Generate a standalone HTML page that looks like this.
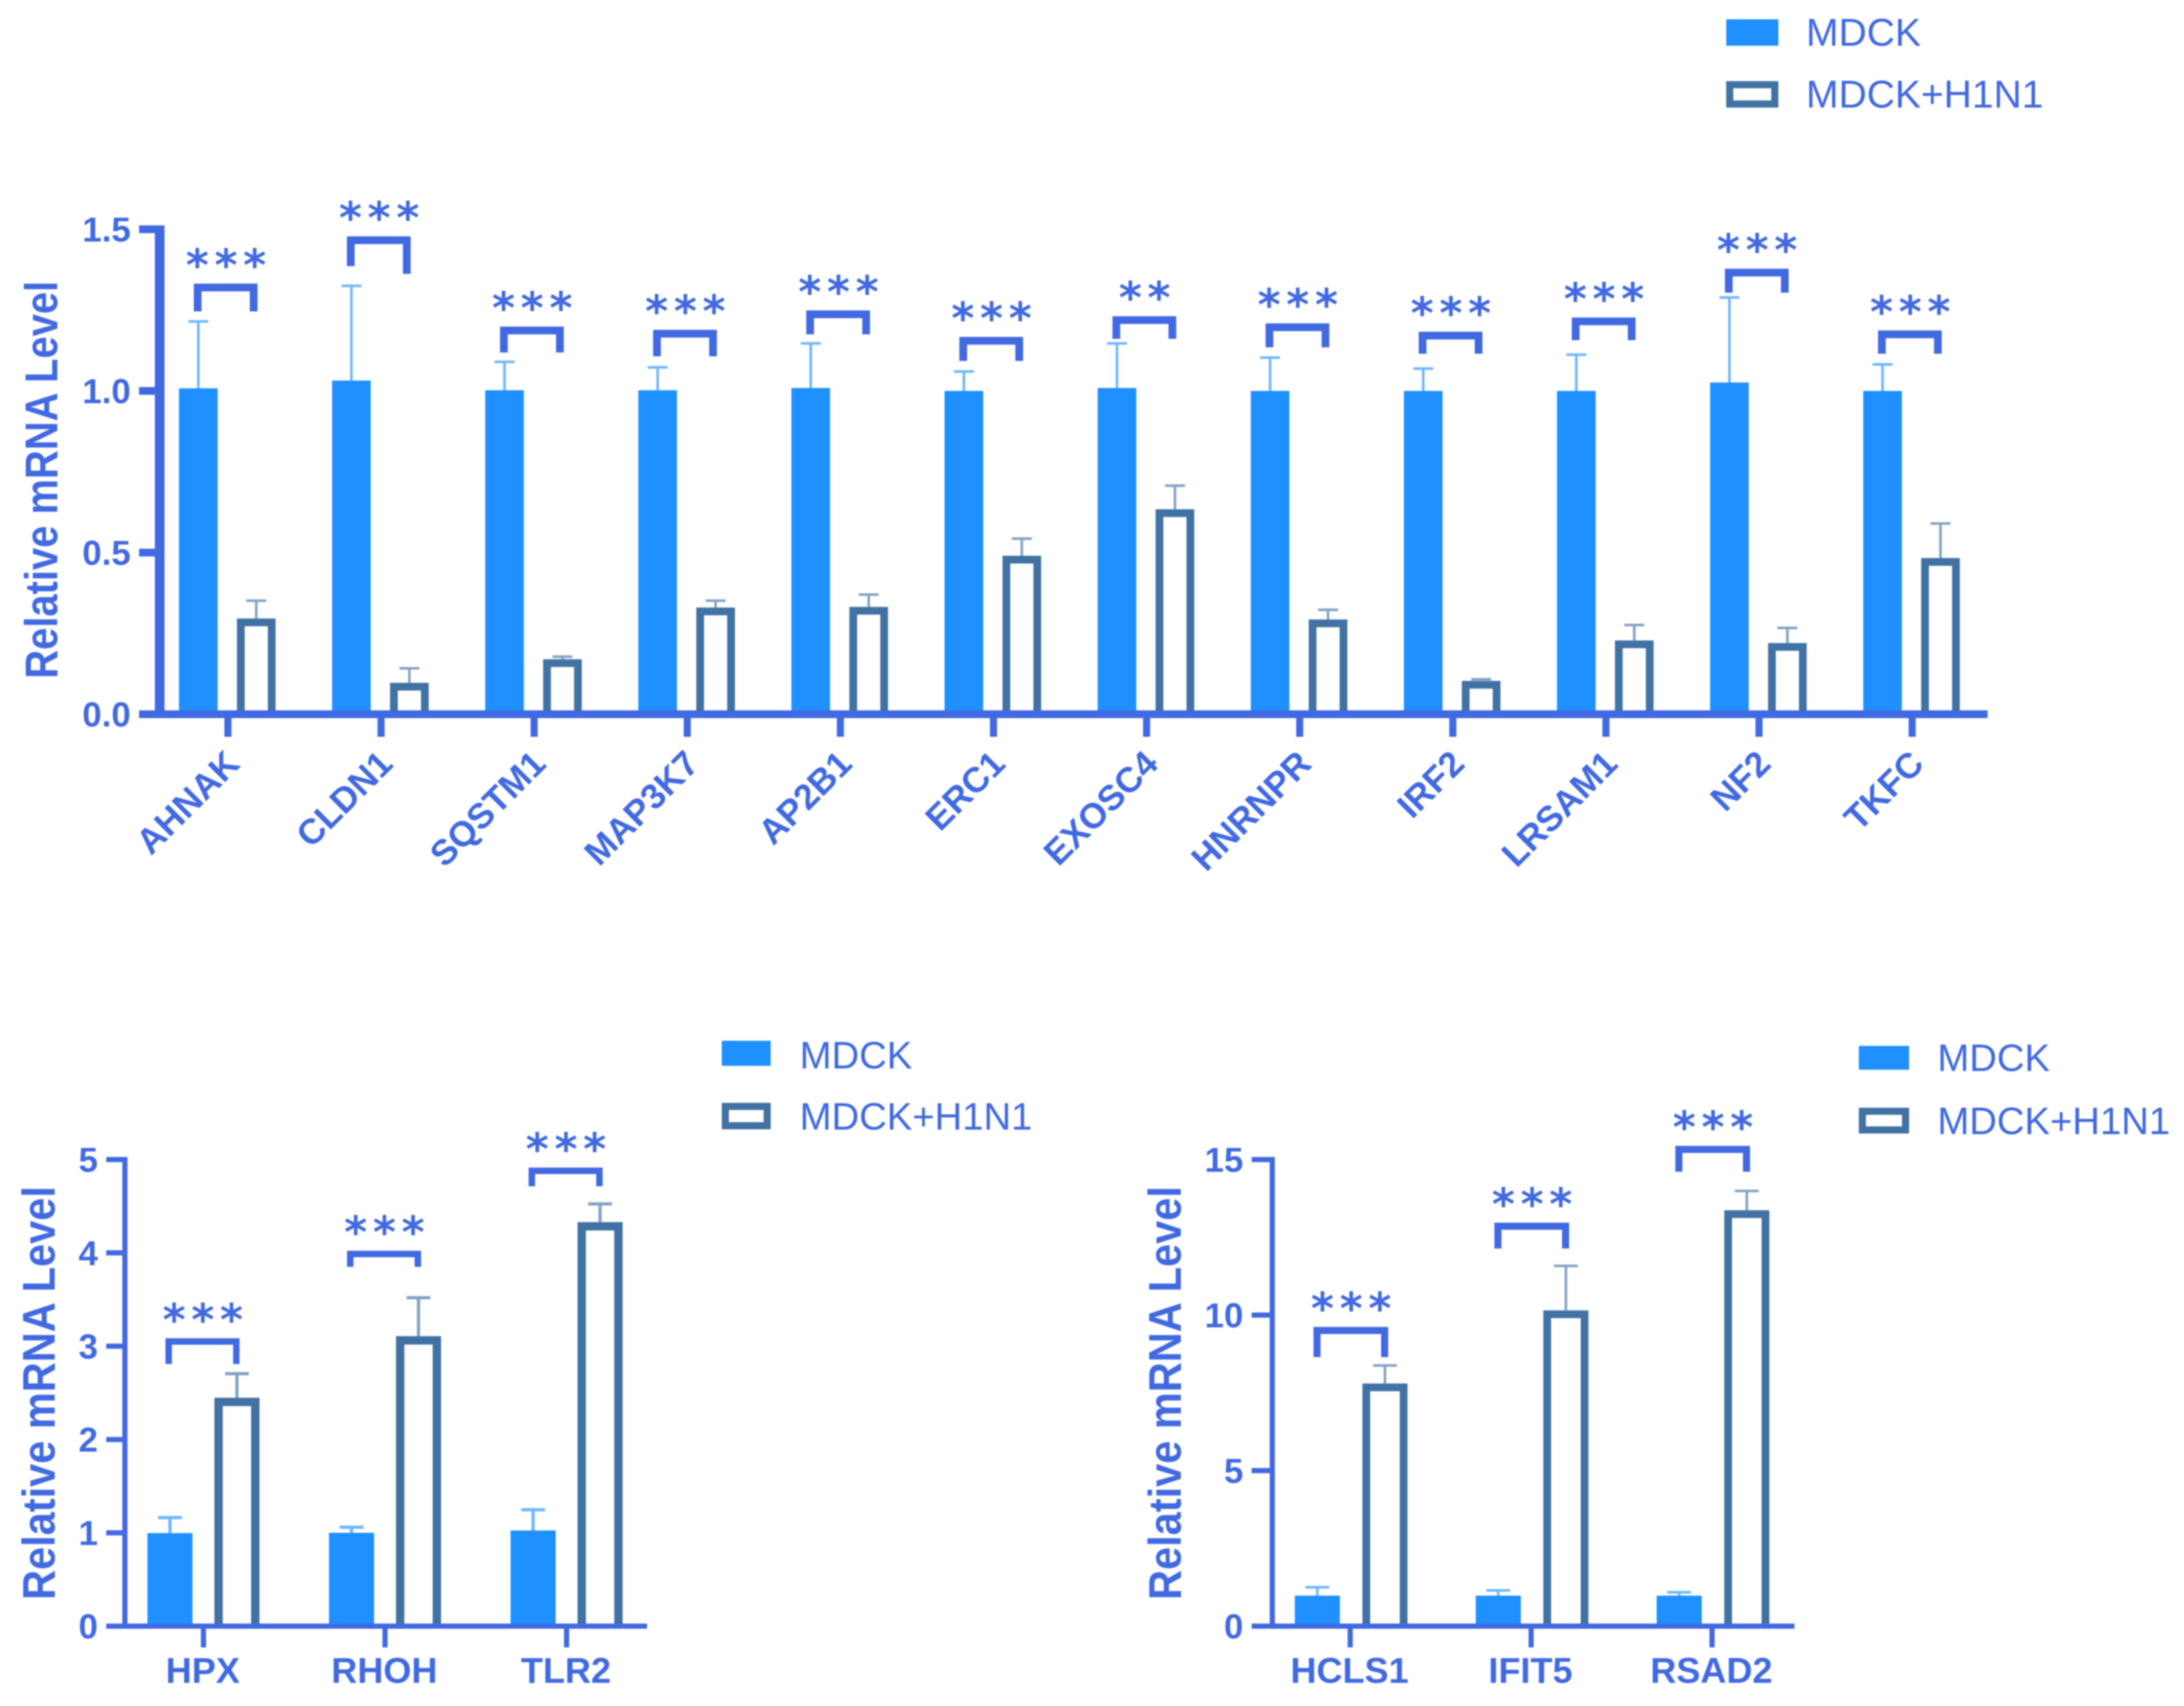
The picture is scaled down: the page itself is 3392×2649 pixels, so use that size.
<!DOCTYPE html>
<html lang="en">
<head>
<meta charset="utf-8">
<title>Relative mRNA Level charts</title>
<style>
html,body{margin:0;padding:0;background:#fff;width:3392px;height:2649px;overflow:hidden}
svg{display:block;filter:blur(1px)}
text{font-family:"Liberation Sans",Arial,sans-serif;fill:#4169e1}
.tick{font-weight:700;font-size:54px}
.xtick{font-weight:700;font-size:56px}
.xtick-rot{font-weight:700;font-size:55px}
.title{font-weight:700;font-size:62px}
.stars{font-family:"DejaVu Sans",sans-serif;font-weight:700;font-size:68px;letter-spacing:9px}
.legend{font-size:60px}
</style>
</head>
<body>
<svg id="figure" xmlns="http://www.w3.org/2000/svg" width="3392" height="2649" viewBox="0 0 3392 2649">
  <rect width="3392" height="2649" fill="#fff"/>
  <g>
    <rect x="2681" y="30" width="81" height="41" fill="#1e90ff"/>
    <rect x="2686.5" y="131.5" width="70" height="30" fill="#fff" stroke="#4172a3" stroke-width="11"/>
    <text class="legend" style="font-size:60.6px" x="2805" y="71">MDCK</text>
    <text class="legend" style="font-size:60.6px" x="2805" y="167">MDCK+H1N1</text>
  </g>
  <g>
    <rect x="1121" y="1616" width="76" height="39" fill="#1e90ff"/>
    <rect x="1126.5" y="1718" width="65" height="30" fill="#fff" stroke="#4172a3" stroke-width="11"/>
    <text class="legend" style="font-size:59.4px" x="1242" y="1659">MDCK</text>
    <text class="legend" style="font-size:59.4px" x="1242" y="1754">MDCK+H1N1</text>
  </g>
  <g>
    <rect x="2887" y="1624" width="78" height="37" fill="#1e90ff"/>
    <rect x="2892.5" y="1725.5" width="67" height="29" fill="#fff" stroke="#4172a3" stroke-width="11"/>
    <text class="legend" style="font-size:59.4px" x="3009" y="1663">MDCK</text>
    <text class="legend" style="font-size:59.4px" x="3009" y="1761">MDCK+H1N1</text>
  </g>
</svg>
<script>
/* ---------- Chart A data ---------- */
const catsA = ['AHNAK','CLDN1','SQSTM1','MAP3K7','AP2B1','ERC1','EXOSC4','HNRNPR','IRF2','LRSAM1','NF2','TKFC'];
const mdckA = [1.008,1.032,1.002,1.002,1.009,1.0,1.009,1.0,1.0,1.0,1.026,1.0];
const mdckTopA = [1.215,1.325,1.09,1.073,1.147,1.06,1.147,1.103,1.069,1.112,1.289,1.082];
const h1n1A = [0.296,0.097,0.17,0.33,0.332,0.49,0.634,0.293,0.103,0.228,0.22,0.483];
const h1n1TopA = [0.351,0.142,0.178,0.351,0.37,0.543,0.707,0.323,0.108,0.276,0.267,0.59];
const sigA = ['***','***','***','***','***','***','**','***','***','***','***','***'];
const brkA = [1.332,1.478,1.199,1.189,1.249,1.167,1.231,1.209,1.183,1.227,1.378,1.187];
const brkLegLA = [0.086,0.092,0.08,0.082,0.074,0.074,0.07,0.074,0.068,0.07,0.074,0.072];
const brkLegRA = [0.086,0.116,0.08,0.082,0.074,0.074,0.07,0.074,0.068,0.07,0.074,0.072];
const ticksA = ['0.0','0.5','1.0','1.5'];

/* ---------- Chart B data ---------- */
const catsB = ['HPX','RHOH','TLR2'];
const mdckB = [0.997,1.0,1.025];
const mdckTopB = [1.163,1.06,1.247];
const h1n1B = [2.447,3.107,4.33];
const h1n1TopB = [2.705,3.52,4.525];
const sigB = ['***','***','***'];
const brkB = [3.085,4.023,4.914];
const brkLegLB = [0.276,0.173,0.2];
const brkLegRB = [0.276,0.173,0.2];
const ticksB = ['0','1','2','3','4','5'];

/* ---------- Chart C data ---------- */
const catsC = ['HCLS1','IFIT5','RSAD2'];
const mdckC = [0.98,0.98,0.98];
const mdckTopC = [1.25,1.15,1.09];
const h1n1C = [7.8,10.15,13.37];
const h1n1TopC = [8.38,11.58,13.99];
const sigC = ['***','***','***'];
const brkC = [9.62,12.97,15.44];
const brkLegLC = [0.97,0.83,0.83];
const brkLegRC = [0.97,0.83,0.83];
const ticksC = ['0','5','10','15'];

const NS = 'http://www.w3.org/2000/svg';
const BLUE = '#1e90ff', STEEL = '#4172a3', ROYAL = '#4169e1';
const fig = document.getElementById('figure');

function add(parent, tag, attrs, txt) {
  const el = document.createElementNS(NS, tag);
  for (const k in attrs) el.setAttribute(k, attrs[k]);
  if (txt !== undefined) el.textContent = txt;
  parent.appendChild(el);
  return el;
}

function drawChart(c) {
  const root = add(fig, 'g', {});
  
  

  const y = v => c.y0 + (c.yTop - c.y0) * v / c.yMax;
  const xTick = i => c.xStart + c.xStep * i;

  c.cats.forEach((cat, i) => {
    const tx = xTick(i);
    const bx = tx + c.offA;
    const hx = tx + c.offB;

    const errA = add(root, 'path', {
      d: `M${bx} ${y(c.mdck[i])}V${y(c.mdckTop[i])}M${bx - c.cap / 2} ${y(c.mdckTop[i])}H${bx + c.cap / 2}`,
      stroke: BLUE, 'stroke-width': c.errW, 'stroke-opacity': .65, fill: 'none'
    });
    
    

    const errB = add(root, 'path', {
      d: `M${hx} ${y(c.h1n1[i])}V${y(c.h1n1Top[i])}M${hx - c.cap / 2} ${y(c.h1n1Top[i])}H${hx + c.cap / 2}`,
      stroke: STEEL, 'stroke-width': c.errW, 'stroke-opacity': .65, fill: 'none'
    });
    
    

    const barA = add(root, 'rect', {
      x: bx - c.barW / 2, y: y(c.mdck[i]), width: c.barW, height: y(0) - y(c.mdck[i]), fill: BLUE
    });
    
    

    const hl = hx - c.barW / 2 + c.barS / 2;
    const hr = hx + c.barW / 2 - c.barS / 2;
    const ht = y(c.h1n1[i]) + c.barS / 2;
    const barB = add(root, 'path', {
      d: `M${hl} ${y(0)}V${ht}H${hr}V${y(0)}`,
      fill: '#fff', stroke: STEEL, 'stroke-width': c.barS
    });
    
    

    const x1 = tx + c.brkL + c.brkS / 2;
    const x2 = tx + c.brkR - c.brkS / 2;
    const top = y(c.brk[i]);
    const brk = add(root, 'path', {
      d: `M${x1} ${top + (y(0) - y(c.brkLegL[i]))}V${top + c.brkS / 2}H${x2}V${top + (y(0) - y(c.brkLegR[i]))}`,
      fill: 'none', stroke: ROYAL, 'stroke-width': c.brkS
    });
    
    

    const stars = add(root, 'text', {
      class: 'stars', x: (tx + c.brkL + tx + c.brkR) / 2 + 5, y: top - 5, 'text-anchor': 'middle'
    }, c.sig[i]);
    
    

    const tick = add(root, 'line', {
      x1: tx, x2: tx, y1: y(0), y2: y(0) + c.tickLenX, stroke: ROYAL, 'stroke-width': c.xTickW
    });
    
    

    let lab;
    if (c.rotate) {
      const lx = tx + 21, ly = y(0) + 80;
      lab = add(root, 'text', {
        class: 'xtick-rot', x: lx, y: ly, 'text-anchor': 'end',
        transform: `rotate(-45 ${lx} ${ly})`
      }, cat);
    } else {
      lab = add(root, 'text', {
        class: 'xtick', x: tx - 1, y: y(0) + 88, 'text-anchor': 'middle'
      }, cat);
    }
    
    
  });

  const yAxis = add(root, 'line', {
    x1: c.axisX, x2: c.axisX, y1: y(c.yMax) - c.xAxisW / 2, y2: y(0) + c.xAxisW / 2, stroke: ROYAL, 'stroke-width': c.yAxisW
  });
  
  

  const xAxis = add(root, 'line', {
    x1: c.tickLeft, x2: c.axisEnd, y1: y(0), y2: y(0), stroke: ROYAL, 'stroke-width': c.xAxisW
  });
  
  

  c.ticks.forEach(t => {
    const v = parseFloat(t);
    const yt = add(root, 'line', {
      x1: c.tickLeft, x2: c.axisX, y1: y(v), y2: y(v), stroke: ROYAL, 'stroke-width': c.xAxisW
    });
    
    

    const yl = add(root, 'text', {
      class: 'tick', x: c.tickLeft - 13, y: y(v) + 19, 'text-anchor': 'end'
    }, t);
    
    
  });

  const title = add(root, 'text', {
    class: 'title', 'text-anchor': 'middle',
    transform: `translate(${c.titleX} ${c.titleY}) rotate(-90) scale(${c.titleS} 1.15)`
  }, 'Relative mRNA Level');
  
  
}

drawChart({
  name: 'chart-top', cats: catsA, mdck: mdckA, mdckTop: mdckTopA, h1n1: h1n1A, h1n1Top: h1n1TopA,
  sig: sigA, brk: brkA, brkLegL: brkLegLA, brkLegR: brkLegRA, ticks: ticksA, yMax: 1.5,
  y0: 1109, yTop: 356, xStart: 354, xStep: 237.8, offA: -46, offB: 44, barW: 60, barS: 12,
  cap: 31, errW: 4, brkL: -53, brkR: 46, brkS: 12, axisX: 248, yAxisW: 15, xAxisW: 12,
  tickLeft: 216, axisEnd: 3087, tickLenX: 35, xTickW: 11, rotate: true, titleX: 89, titleY: 745, titleS: 1
});
drawChart({
  name: 'chart-bottom-left', cats: catsB, mdck: mdckB, mdckTop: mdckTopB, h1n1: h1n1B, h1n1Top: h1n1TopB,
  sig: sigB, brk: brkB, brkLegL: brkLegLB, brkLegR: brkLegRB, ticks: ticksB, yMax: 5,
  y0: 2525, yTop: 1800.5, xStart: 316, xStep: 282, offA: -52, offB: 52, barW: 70, barS: 13,
  cap: 37, errW: 5, brkL: -59, brkR: 56, brkS: 10, axisX: 194, yAxisW: 8, xAxisW: 8,
  tickLeft: 165, axisEnd: 1005, tickLenX: 33, xTickW: 8, rotate: false, titleX: 85, titleY: 2163, titleS: 1.04
});
drawChart({
  name: 'chart-bottom-right', cats: catsC, mdck: mdckC, mdckTop: mdckTopC, h1n1: h1n1C, h1n1Top: h1n1TopC,
  sig: sigC, brk: brkC, brkLegL: brkLegLC, brkLegR: brkLegRC, ticks: ticksC, yMax: 15,
  y0: 2525, yTop: 1800.5, xStart: 2097, xStep: 281, offA: -51, offB: 54, barW: 70, barS: 12,
  cap: 37, errW: 4, brkL: -57, brkR: 59, brkS: 11, axisX: 1976, yAxisW: 8, xAxisW: 8,
  tickLeft: 1944, axisEnd: 2787, tickLenX: 33, xTickW: 8, rotate: false, titleX: 1834, titleY: 2163, titleS: 1.04
});
</script>
</body>
</html>
